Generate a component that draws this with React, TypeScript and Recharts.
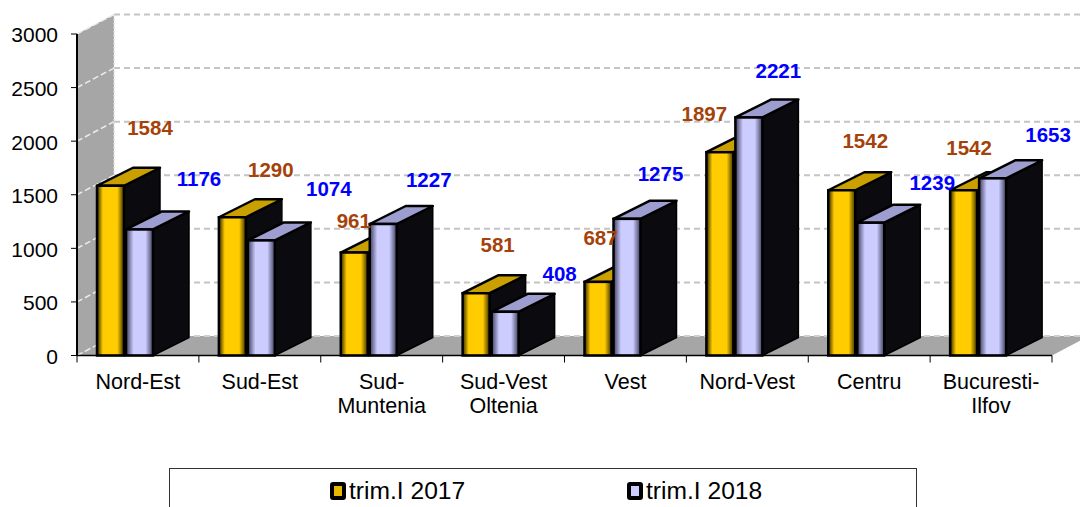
import React from "react";
import { BarChart, Bar, XAxis, YAxis, CartesianGrid, Legend, LabelList, ReferenceArea } from "recharts";

const categoryLines = [["Nord-Est"], ["Sud-Est"], ["Sud-", "Muntenia"], ["Sud-Vest", "Oltenia"], ["Vest"], ["Nord-Vest"], ["Centru"], ["Bucuresti-", "Ilfov"]];
const values2017 = [1584, 1290, 961, 581, 687, 1897, 1542, 1542];
const values2018 = [1176, 1074, 1227, 408, 1275, 2221, 1239, 1653];
const yTicks = [0, 500, 1000, 1500, 2000, 2500, 3000];
const yMax = 3000;
const seriesNames = ["trim.I 2017", "trim.I 2018"];

// Hand-placed label offsets of the original, relative to each bar's top centre
const labelOffsets2017 = [[40, -58], [39, -47], [0, -32], [22, -48], [3, -44], [-15, -38], [24, -49], [6, -42]];
const labelOffsets2018 = [[60, -50], [68, -51], [46, -44], [55, -38], [34, -45], [30, -46], [62, -40], [56, -43]];

const data = categoryLines.map((lines, i) => ({
  name: lines.join(lines[0].endsWith("-") ? "" : " "),
  y2017: values2017[i],
  y2018: values2018[i],
}));

const DEPTH_X = 37;
const DEPTH_Y = -19.5;
const BAR_DX = 36;
const BAR_DY = -18;
const SHIFT = -13;
const FONT = "'Liberation Sans', Arial, sans-serif";
const STEP = 975 / 8;

const Bar3D = (topFill: string, frontId: string) => (p: any) => {
  const x = p.x + SHIFT;
  const { y, width: w, height: h } = p;
  const side = `${x + w},${y} ${x + w + BAR_DX},${y + BAR_DY} ${x + w + BAR_DX},${y + h + BAR_DY} ${x + w},${y + h}`;
  const top = `${x},${y} ${x + BAR_DX},${y + BAR_DY} ${x + w + BAR_DX},${y + BAR_DY} ${x + w},${y}`;
  return (
    <g>
      <polygon points={side} fill="#0b0b0f" stroke="#000" strokeWidth={1.5} strokeLinejoin="round" />
      <polygon points={top} fill={topFill} stroke="#000" strokeWidth={2.5} strokeLinejoin="round" />
      <rect x={x} y={y} width={w} height={h} fill={`url(#${frontId})`} stroke="#000" strokeWidth={2.5} />
    </g>
  );
};

const Walls = (p: any) => {
  const { x, y, width: w, height: h } = p;
  const b = y + h;
  const backX = x + DEPTH_X;
  return (
    <g>
      <polygon points={`${x},${y} ${backX},${y + DEPTH_Y} ${backX},${b + DEPTH_Y} ${x},${b}`} fill="#a6a6a6" />
      <polygon points={`${x},${b} ${x + w},${b} ${x + w + DEPTH_X},${b + DEPTH_Y} ${backX},${b + DEPTH_Y}`} fill="#a6a6a6" />
      <line x1={backX} y1={y + DEPTH_Y} x2={backX} y2={b + DEPTH_Y} stroke="#dcdcdc" strokeWidth={1.5} strokeDasharray="2 2" />
      {yTicks.map((v) => {
        const ty = b - (v / yMax) * h;
        return <line key={v} x1={x} y1={ty} x2={backX} y2={ty + DEPTH_Y} stroke="#ececec" strokeWidth={1.5} strokeDasharray="6 3" />;
      })}
      <line x1={backX} y1={b + DEPTH_Y} x2={x + w + DEPTH_X} y2={b + DEPTH_Y} stroke="#d0d0d0" strokeWidth={2} strokeDasharray="6 4" />
    </g>
  );
};

const GridLine = (p: any) => {
  const { x1, y1, x2 } = p;
  return (
    <line key={p.key} x1={x1 + DEPTH_X} y1={y1 + DEPTH_Y} x2={x2 + DEPTH_X} y2={y1 + DEPTH_Y} stroke="#c4c4c4" strokeWidth={2} strokeDasharray="6 4" />
  );
};

const XTick = (p: any) => {
  const { x, y, index } = p;
  const lines = categoryLines[index] || [];
  return (
    <g>
      <line x1={x - STEP / 2} y1={y - 8} x2={x - STEP / 2} y2={y - 1} stroke="#000" strokeWidth={1} />
      {index === categoryLines.length - 1 && (
        <line x1={x + STEP / 2} y1={y - 8} x2={x + STEP / 2} y2={y - 1} stroke="#000" strokeWidth={1} />
      )}
      {lines.map((t: string, i: number) => (
        <text key={t} x={x} y={y + 25 + i * 24} textAnchor="middle" fontFamily={FONT} fontSize={21.5} fill="#000">{t}</text>
      ))}
    </g>
  );
};

const ValueLabel = (offsets: number[][], color: string) => (p: any) => {
  const { x, y, width, index, value } = p;
  const [dx, dy] = offsets[index];
  return (
    <text x={x - 13.5 + width / 2 + dx} y={y + dy + 7} textAnchor="middle" fontFamily={FONT} fontSize={20.5} fontWeight={700} fill={color}>{value}</text>
  );
};

const LegendBox = () => {
  const items = [
    { name: seriesNames[0], fill: "#e6b800", left: 160 },
    { name: seriesNames[1], fill: "#ccccff", left: 457 },
  ];
  return (
    <div style={{ position: "relative", width: 748, height: 45, boxSizing: "border-box", border: "1px solid #333", background: "#fff", fontFamily: FONT, fontSize: 24.6, color: "#000" }}>
      {items.map((it) => (
        <div key={it.name} style={{ position: "absolute", left: it.left, top: 8, display: "flex", alignItems: "center", lineHeight: "28px", whiteSpace: "nowrap" }}>
          <span style={{ display: "inline-block", width: 8, height: 10, background: it.fill, border: "4px solid #000", borderRadius: 3, marginRight: 3 }} />
          {it.name}
        </div>
      ))}
    </div>
  );
};

export default function App() {
  return (
    <div style={{ position: "absolute", left: 0, top: 0, width: 1080, height: 507, overflow: "hidden", background: "#fff" }}>
      <BarChart
        width={1080}
        height={507}
        data={data}
        barSize={27}
        barGap={2}
        barCategoryGap={0}
        margin={{ top: 34, right: 28, bottom: 46.5, left: 0 }}
      >
        <defs>
          <linearGradient id="front2017" x1="0" x2="1" y1="0" y2="0">
            <stop offset="0" stopColor="#2e2500" />
            <stop offset="0.22" stopColor="#ffcc00" />
            <stop offset="0.75" stopColor="#ffcc00" />
            <stop offset="1" stopColor="#3a2e00" />
          </linearGradient>
          <linearGradient id="front2018" x1="0" x2="1" y1="0" y2="0">
            <stop offset="0" stopColor="#3c3c5c" />
            <stop offset="0.28" stopColor="#ccccff" />
            <stop offset="0.72" stopColor="#ccccff" />
            <stop offset="1" stopColor="#3c3c5c" />
          </linearGradient>
        </defs>
        <CartesianGrid vertical={false} horizontal={GridLine} />
        <ReferenceArea y1={0} y2={yMax} shape={Walls} ifOverflow="visible" />
        <XAxis
          dataKey="name"
          axisLine={{ stroke: "#000", strokeWidth: 1.5 }}
          tickLine={false}
          height={60}
          interval={0}
          tick={XTick}
        />
        <YAxis
          width={77}
          domain={[0, yMax]}
          ticks={yTicks}
          interval={0}
          tickSize={6}
          tickMargin={13}
          axisLine={{ stroke: "#000", strokeWidth: 2 }}
          tickLine={{ stroke: "#000" }}
          tick={{ fontFamily: FONT, fontSize: 21, fill: "#000", dy: 1 }}
        />
        <Legend
          verticalAlign="bottom"
          content={<LegendBox />}
          wrapperStyle={{ left: 169, top: 468, width: 748, height: 45 }}
        />
        <Bar dataKey="y2017" name={seriesNames[0]} isAnimationActive={false} shape={Bar3D("#c9a000", "front2017")}>
          <LabelList dataKey="y2017" content={ValueLabel(labelOffsets2017, "#a5420a")} />
        </Bar>
        <Bar dataKey="y2018" name={seriesNames[1]} isAnimationActive={false} shape={Bar3D("#9d9dcf", "front2018")}>
          <LabelList dataKey="y2018" content={ValueLabel(labelOffsets2018, "#0000ff")} />
        </Bar>
      </BarChart>
    </div>
  );
}
